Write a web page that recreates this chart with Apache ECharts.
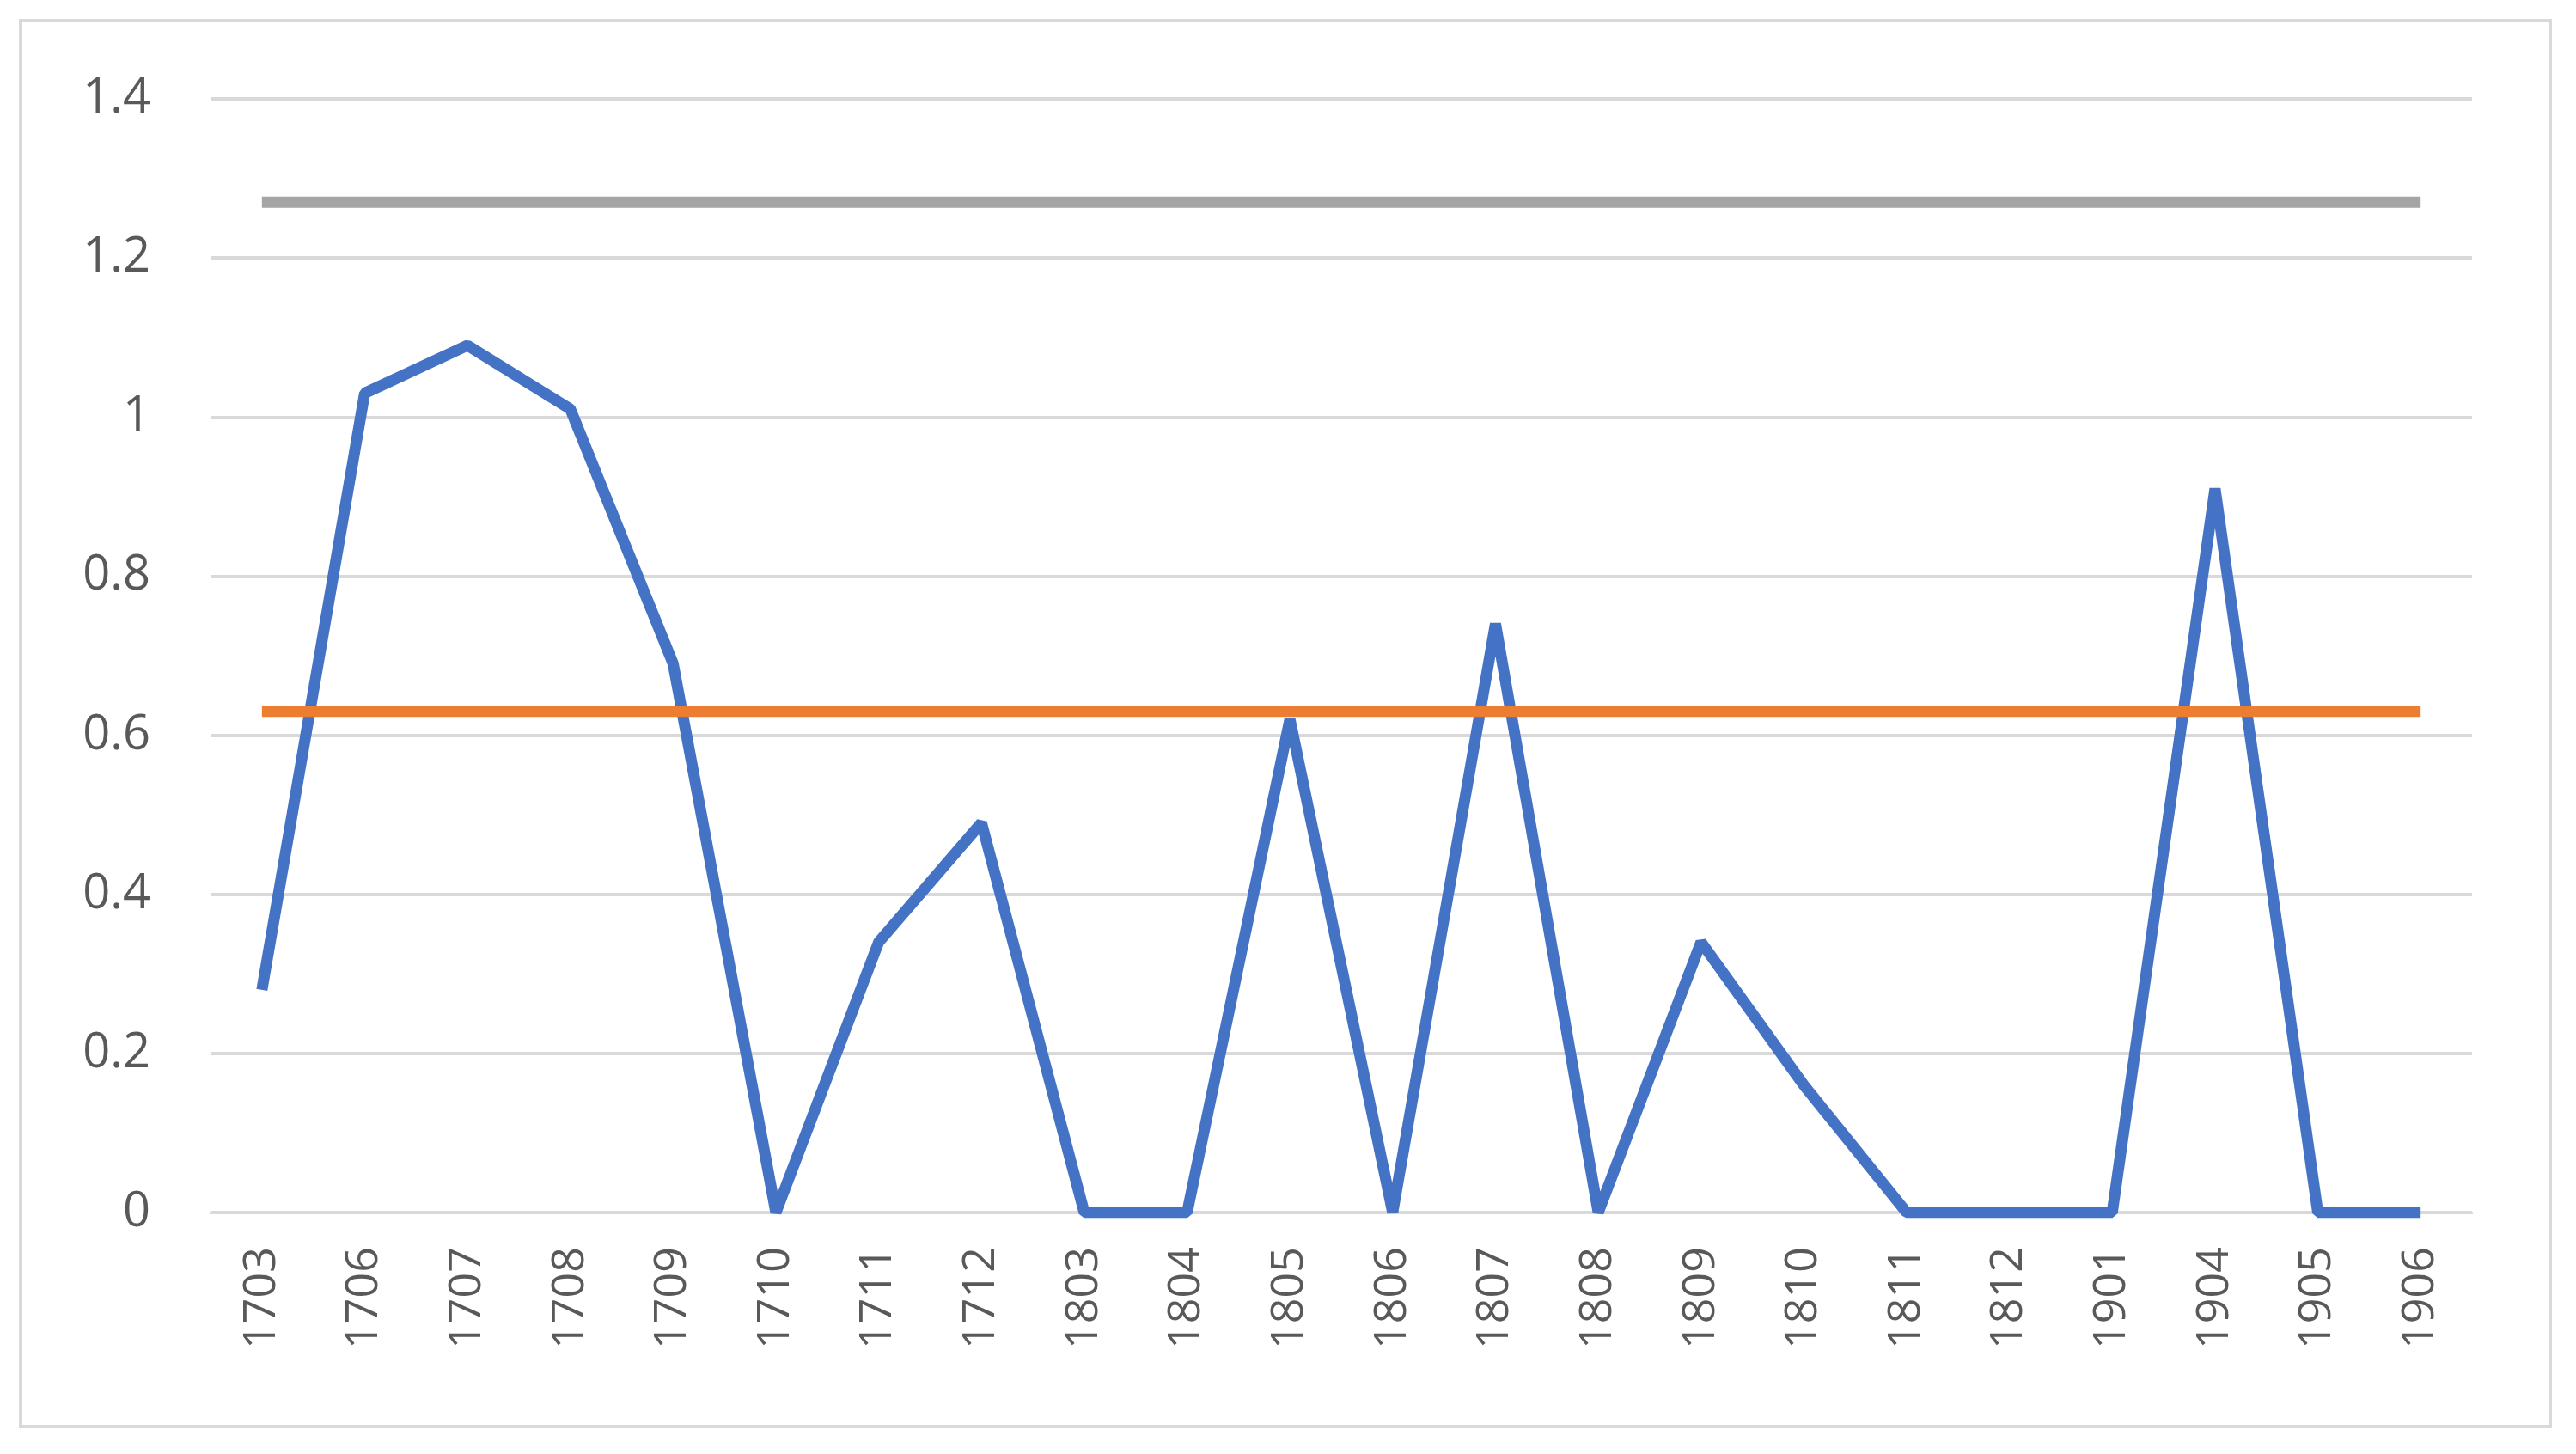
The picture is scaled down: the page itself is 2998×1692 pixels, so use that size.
<!DOCTYPE html>
<html>
<head>
<meta charset="utf-8">
<script src="https://cdn.jsdelivr.net/npm/echarts@6/dist/echarts.min.js"></script>
<style>
html,body{margin:0;padding:0;background:#fff;}
#frame{position:absolute;left:22px;top:22px;width:2948px;height:1640px;border:4px solid #d9d9d9;box-sizing:border-box;}
#main{width:2998px;height:1692px;}
</style>
</head>
<body>
<div id="frame"></div>
<div id="main"></div>
<script>
var categories = ['1703','1706','1707','1708','1709','1710','1711','1712','1803','1804','1805','1806','1807','1808','1809','1810','1811','1812','1901','1904','1905','1906'];
var values = [0.28,1.03,1.09,1.01,0.69,0,0.34,0.49,0,0,0.62,0,0.74,0,0.34,0.16,0,0,0,0.91,0,0];
var meanValue = 0.63;
var upperValue = 1.27;

var mychart = echarts.init(document.getElementById('main'));
var option = {
    animation: false,
    grid: {left: 245, right: 121, top: 115, bottom: 281},
    xAxis: {
        type: 'category',
        boundaryGap: true,
        data: categories,
        axisLine: {lineStyle: {color: '#d9d9d9', width: 3}},
        axisTick: {show: false},
        axisLabel: {rotate: 90, color: '#595959', fontSize: 52, fontFamily: 'Open Sans', margin: 40}
    },
    yAxis: {
        type: 'value',
        min: 0, max: 1.4, interval: 0.2,
        axisLine: {show: false},
        axisTick: {show: false},
        splitLine: {lineStyle: {color: '#d9d9d9', width: 4}},
        axisLabel: {color: '#595959', fontSize: 56, fontFamily: 'Open Sans', margin: 70,
            formatter: function (v) { return String(Math.round(v * 10) / 10); }}
    },
    series: [
        {type: 'line', data: values, symbol: 'none', lineStyle: {color: '#4472C4', width: 13}},
        {type: 'line', data: categories.map(function () { return meanValue; }), symbol: 'none', lineStyle: {color: '#ED7D31', width: 13}},
        {type: 'line', data: categories.map(function () { return upperValue; }), symbol: 'none', lineStyle: {color: '#A5A5A5', width: 13}}
    ]
};
mychart.setOption(option);
</script>
</body>
</html>
